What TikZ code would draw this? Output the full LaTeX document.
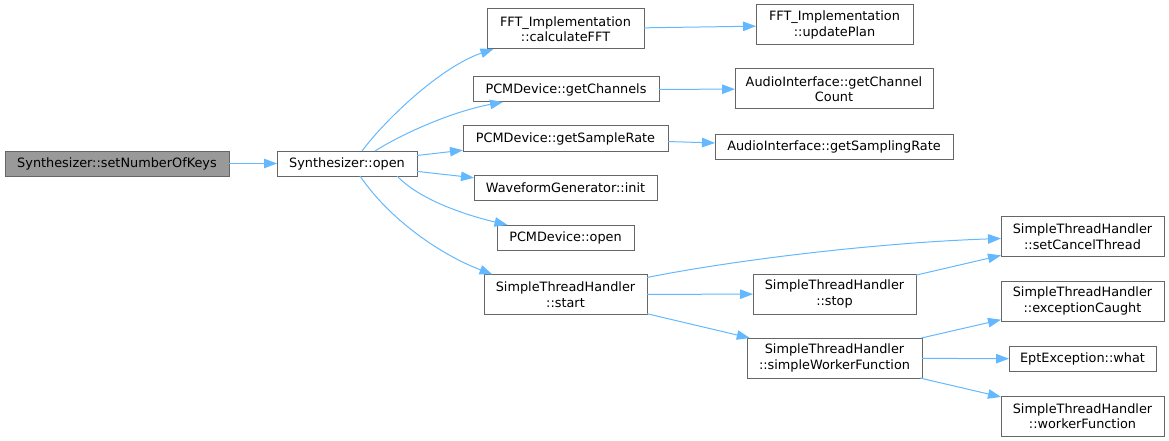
\documentclass[tikz,border=0pt]{standalone}
\usepackage{fontspec}
\setmainfont{DejaVu Sans}
\usetikzlibrary{arrows.meta}
\definecolor{edgeblue}{HTML}{63B8FF}
\definecolor{boxborder}{HTML}{666666}
\definecolor{rootfill}{HTML}{999999}
\begin{document}
\begin{tikzpicture}[x=1pt,y=-1pt,
  fn/.style={draw=boxborder, fill=white, line width=1pt, inner sep=0pt, outer sep=0pt,
    align=center, text=black, font=\fontsize{12.85}{15.5}\selectfont},
  rootfn/.style={fn, fill=rootfill},
  edge/.style={draw=edgeblue, line width=1pt, -{Triangle[length=13pt,width=9.5pt]}}]
\useasboundingbox (0,0) rectangle (1169,441);

\node[rootfn, minimum width=224pt, minimum height=25pt] (keys) at (117,163.5) {Synthesizer::setNumberOfKeys};
\node[fn, minimum width=140pt, minimum height=25pt] (open) at (347,163.5) {Synthesizer::open};
\node[fn, minimum width=157pt, minimum height=40pt] (fft) at (565.5,29) {FFT\_Implementation\\::calculateFFT};
\node[fn, minimum width=157pt, minimum height=40pt] (plan) at (834.5,25) {FFT\_Implementation\\::updatePlan};
\node[fn, minimum width=186pt, minimum height=25pt] (chan) at (566,89.5) {PCMDevice::getChannels};
\node[fn, minimum width=198pt, minimum height=40pt] (chancount) at (834,89) {AudioInterface::getChannel\\Count};
\node[fn, minimum width=205pt, minimum height=25pt] (rate) at (565.5,138.5) {PCMDevice::getSampleRate};
\node[fn, minimum width=238pt, minimum height=25pt] (samp) at (834,146.5) {AudioInterface::getSamplingRate};
\node[fn, minimum width=183pt, minimum height=25pt] (wave) at (565.5,188) {WaveformGenerator::init};
\node[fn, minimum width=137pt, minimum height=25pt] (pcmopen) at (565.5,237.5) {PCMDevice::open};
\node[fn, minimum width=163pt, minimum height=40pt] (start) at (565.5,294.5) {SimpleThreadHandler\\::start};
\node[fn, minimum width=163pt, minimum height=40pt] (cancel) at (1082.5,236.5) {SimpleThreadHandler\\::setCancelThread};
\node[fn, minimum width=163pt, minimum height=40pt] (stop) at (834.5,294) {SimpleThreadHandler\\::stop};
\node[fn, minimum width=175pt, minimum height=40pt] (worker) at (834.5,358) {SimpleThreadHandler\\::simpleWorkerFunction};
\node[fn, minimum width=163pt, minimum height=40pt] (exc) at (1082.5,301) {SimpleThreadHandler\\::exceptionCaught};
\node[fn, minimum width=147pt, minimum height=25pt] (what) at (1082.5,359) {EptException::what};
\node[fn, minimum width=163pt, minimum height=40pt] (wf) at (1082.5,416) {SimpleThreadHandler\\::workerFunction};

\draw[edge] (keys) -- (open);
\draw[edge] ([shift={(15,0)}]open.north) .. controls +(23,-31) and +(-53,18) .. ([shift={(-72,0)}]fft.south);
\draw[edge] ([shift={(28,0)}]open.north) .. controls +(25,-16) and +(-53,10) .. ([shift={(-63,0)}]chan.south);
\draw[edge] (open) -- (rate);
\draw[edge] (open) -- (wave);
\draw[edge] ([shift={(50,0)}]open.south) .. controls +(23,24) and +(-42,-10) .. ([shift={(-58,0)}]pcmopen.north);
\draw[edge] ([shift={(13,0)}]open.south) .. controls +(30,44) and +(-52,-20) .. ([shift={(-73,0)}]start.north);
\draw[edge] (fft) -- (plan);
\draw[edge] (chan) -- (chancount);
\draw[edge] (rate) -- (samp);
\draw[edge] ([shift={(0,3)}]start.north east) .. controls +(90,-18) and +(-120,4) .. ([shift={(0,2)}]cancel.west);
\draw[edge] (start) -- (stop);
\draw[edge] (start) -- (worker);
\draw[edge] (stop) -- (cancel);
\draw[edge] (worker) -- (exc);
\draw[edge] (worker) -- (what);
\draw[edge] (worker) -- (wf);
\end{tikzpicture}
\end{document}
